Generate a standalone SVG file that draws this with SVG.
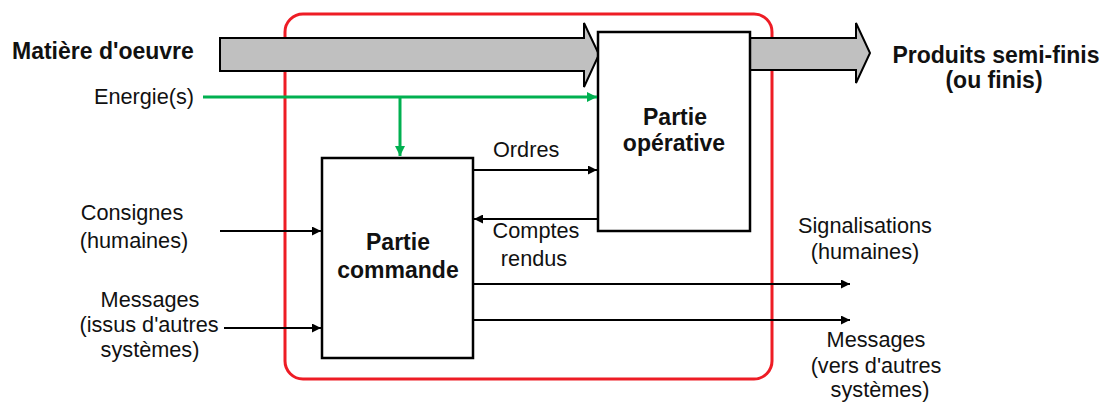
<svg xmlns="http://www.w3.org/2000/svg" width="1109" height="403" viewBox="0 0 1109 403">
<style>
text{font-family:"Liberation Sans",Arial,sans-serif;fill:#111;}
.b{font-weight:bold;font-size:23px;}
.r{font-size:21.7px;}
.box{fill:#fff;stroke:#000;stroke-width:2.5;}
.flow{fill:#c0c0c0;stroke:#000;stroke-width:2;stroke-linejoin:miter;}
.ln{stroke:#000;stroke-width:2;fill:none;}
.gr{stroke:#00b050;stroke-width:3;fill:none;}
</style>
<defs>
<marker id="ah" viewBox="0 0 10 10" refX="10" refY="5" markerWidth="11" markerHeight="9" markerUnits="userSpaceOnUse" orient="auto"><path d="M0,0 L10,5 L0,10 z" fill="#000"/></marker>
<marker id="ahg" viewBox="0 0 10 10" refX="10" refY="5" markerWidth="11" markerHeight="10" markerUnits="userSpaceOnUse" orient="auto"><path d="M0,0 L10,5 L0,10 z" fill="#00b050"/></marker>
</defs>
<rect id="frame" x="285" y="14" width="487" height="365" rx="18" ry="18" fill="none" stroke="#ee1c25" stroke-width="3"/>
<g id="flows">
<polygon class="flow" points="220,38 584,38 584,23 599,54.5 584,87 584,71 220,71"/>
<polygon class="flow" points="750,38 856,38 856,23 870,53 856,83 856,70 750,70"/>
</g>
<g id="partie-operative">
<rect class="box" x="598" y="32" width="152" height="199"/>
<text class="b" x="675" y="125" text-anchor="middle">Partie</text>
<text class="b" x="674" y="151" text-anchor="middle">opérative</text>
</g>
<g id="partie-commande">
<rect class="box" x="322" y="158" width="151" height="200"/>
<text class="b" x="398" y="250" text-anchor="middle">Partie</text>
<text class="b" x="398" y="278" text-anchor="middle">commande</text>
</g>
<g id="connectors">
<path class="gr" d="M203,97 H597" marker-end="url(#ahg)"/>
<path class="gr" d="M400,97 V156" marker-end="url(#ahg)"/>
<path class="ln" d="M473,170 H597" marker-end="url(#ah)"/>
<path class="ln" d="M598,219 H474" marker-end="url(#ah)"/>
<path class="ln" d="M220,231 H321" marker-end="url(#ah)"/>
<path class="ln" d="M224,328 H321" marker-end="url(#ah)"/>
<path class="ln" d="M473,284 H850" marker-end="url(#ah)"/>
<path class="ln" d="M473,320 H850" marker-end="url(#ah)"/>
</g>
<g id="labels">
<text class="b" x="12" y="59">Matière d'oeuvre</text>
<text class="r" x="194" y="104" text-anchor="end">Energie(s)</text>
<text class="b" x="996" y="63" text-anchor="middle">Produits semi-finis</text>
<text class="b" x="994" y="88" text-anchor="middle">(ou finis)</text>
<text class="r" x="493" y="157">Ordres</text>
<text class="r" x="536" y="238" text-anchor="middle">Comptes</text>
<text class="r" x="534" y="266" text-anchor="middle">rendus</text>
<text class="r" x="132" y="220" text-anchor="middle">Consignes</text>
<text class="r" x="134" y="248" text-anchor="middle">(humaines)</text>
<text class="r" x="150" y="307" text-anchor="middle">Messages</text>
<text class="r" x="149" y="332" text-anchor="middle">(issus d'autres</text>
<text class="r" x="150" y="357" text-anchor="middle">systèmes)</text>
<text class="r" x="865" y="233" text-anchor="middle">Signalisations</text>
<text class="r" x="865" y="259" text-anchor="middle">(humaines)</text>
<text class="r" x="876" y="347" text-anchor="middle">Messages</text>
<text class="r" x="876" y="373" text-anchor="middle">(vers d'autres</text>
<text class="r" x="880" y="397" text-anchor="middle">systèmes)</text>
</g>
</svg>
